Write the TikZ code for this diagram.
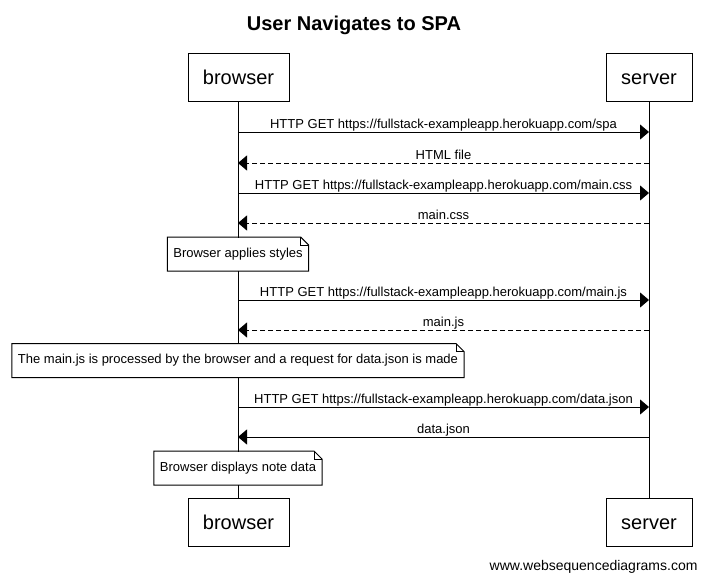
\documentclass[tikz,border=0pt]{standalone}
\usepackage{fontspec}
\setmainfont{Liberation Sans}
\usetikzlibrary{arrows.meta}

\newcommand{\dogear}[1]{%
    \draw (#1.north west) -- ([xshift=-8pt]#1.north east) -- ([yshift=-8pt]#1.north east) -- (#1.south east) -- (#1.south west) -- cycle;
    \draw ([xshift=-8pt]#1.north east) -- ([xshift=-8pt, yshift=-8pt]#1.north east) -- ([yshift=-8pt]#1.north east);}

\begin{document}
\begin{tikzpicture}[x=1pt, y=-1pt, line width=1pt,
        actor/.style={rectangle, draw, minimum height=48pt, text height=14.5pt, text depth=0pt, font=\fontsize{20}{24}\selectfont},
        note/.style={rectangle, fill=white, minimum height=33pt, inner xsep=5.5pt, font=\fontsize{13}{15}\selectfont},
        msg/.style={-{Triangle[length=9pt, width=15pt]}},
        reply/.style={msg, dash pattern=on 5pt off 3pt},
        lbl/.style={anchor=base, yshift=4pt, inner sep=0pt, font=\fontsize{13}{15}\selectfont}]
    \useasboundingbox (0, 0) rectangle (707, 581);
    \node at (354, 30) [anchor=base, font=\bfseries\fontsize{20}{24}\selectfont] (title) {User Navigates to SPA};
    \node at (238.5, 77) [actor, minimum width=101pt] (browser) {browser};
    \node at (649, 77) [actor, minimum width=86pt] (server) {server};
    \node at (238.5, 522) [actor, minimum width=101pt] (browserEnd) {browser};
    \node at (649, 522) [actor, minimum width=86pt] (serverEnd) {server};
    \draw (browser) -- (browserEnd);
    \draw (server) -- (serverEnd);
    \foreach \i/\y in {1/132, 2/163, 3/193, 4/223, 5/300, 6/330, 7/407, 8/437} {
        \coordinate (b\i) at (238, \y);
        \coordinate (s\i) at (649, \y);
    }
    \draw[msg] (b1) -- node[lbl] {HTTP GET https://fullstack-exampleapp.herokuapp.com/spa} (s1);
    \draw[reply] (s2) -- node[lbl] {HTML file} (b2);
    \draw[msg] (b3) -- node[lbl] {HTTP GET https://fullstack-exampleapp.herokuapp.com/main.css} (s3);
    \draw[reply] (s4) -- node[lbl] {main.css} (b4);
    \node at (238, 254) [note] (stylesNote) {Browser applies styles};
    \dogear{stylesNote}
    \draw[msg] (b5) -- node[lbl] {HTTP GET https://fullstack-exampleapp.herokuapp.com/main.js} (s5);
    \draw[reply] (s6) -- node[lbl] {main.js} (b6);
    \node at (238, 360.5) [note] (jsNote) {The main.js is processed by the browser and a request for data.json is made};
    \dogear{jsNote}
    \draw[msg] (b7) -- node[lbl] {HTTP GET https://fullstack-exampleapp.herokuapp.com/data.json} (s7);
    \draw[msg] (s8) -- node[lbl] {data.json} (b8);
    \node at (238, 468) [note] (dataNote) {Browser displays note data};
    \dogear{dataNote}
    \node at (698, 570) [anchor=base east, inner sep=0pt, font=\fontsize{14}{16}\selectfont] (footer) {www.websequencediagrams.com};
\end{tikzpicture}
\end{document}
